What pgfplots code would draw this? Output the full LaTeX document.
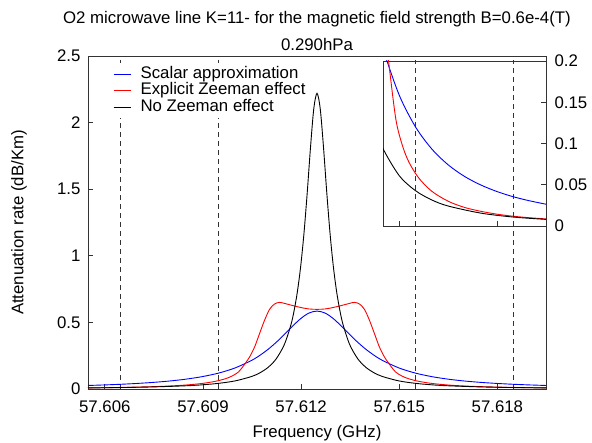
\documentclass[border=0pt]{standalone}
\usepackage{fontspec}
\setmainfont{Liberation Sans}
\usepackage{pgfplots}
\usepackage{pgfplotstable}
\pgfplotsset{compat=1.18}

% d = offset from the line centre 57.612486 GHz, in MHz
\pgfplotstableread{
d a
-7 0.0264
-6.5 0.0305
-6 0.0354
-5.5 0.0417
-5 0.0497
-4.5 0.0601
-4 0.0741
-3.5 0.0932
-3 0.1199
-2.5 0.1584
-2 0.2147
-1.75 0.2522
-1.5 0.2970
-1.25 0.3496
-1 0.4088
-0.75 0.4708
-0.5 0.5281
-0.25 0.5697
0 0.5850
0.25 0.5697
0.5 0.5281
0.75 0.4708
1 0.4088
1.25 0.3496
1.5 0.2970
1.75 0.2522
2 0.2147
2.5 0.1584
3 0.1199
3.5 0.0932
4 0.0741
4.5 0.0601
5 0.0497
5.5 0.0417
6 0.0354
6.5 0.0305
7 0.0264
}\scalar

\pgfplotstableread{
d a
-7 0.0086
-6.5 0.0100
-6 0.0118
-5.5 0.0143
-5 0.0178
-4.5 0.0225
-4 0.0300
-3.5 0.0420
-3.1 0.0580
-2.8 0.0770
-2.6 0.0970
-2.4 0.1280
-2.2 0.1900
-2.05 0.2450
-1.9 0.3200
-1.75 0.4200
-1.6 0.5180
-1.45 0.5980
-1.3 0.6380
-1.15 0.6500
-1 0.6430
-0.75 0.6270
-0.5 0.6120
-0.25 0.6010
0 0.5980
0.25 0.6010
0.5 0.6120
0.75 0.6270
1 0.6430
1.15 0.6500
1.3 0.6380
1.45 0.5980
1.6 0.5180
1.75 0.4200
1.9 0.3200
2.05 0.2450
2.2 0.1900
2.4 0.1280
2.6 0.0970
2.8 0.0770
3.1 0.0580
3.5 0.0420
4 0.0300
4.5 0.0225
5 0.0178
5.5 0.0143
6 0.0118
6.5 0.0100
7 0.0086
}\zeeman

\pgfplotstableread{
d a
-7 0.0080
-6 0.0108
-5 0.0156
-4 0.0242
-3.5 0.0315
-3 0.0427
-2.5 0.0609
-2 0.0938
-1.75 0.1209
-1.5 0.1614
-1.25 0.2252
-1 0.3329
-0.8 0.4797
-0.7 0.5877
-0.6 0.7301
-0.5 0.9184
-0.4 1.1641
-0.3 1.4700
-0.2 1.8097
-0.1 2.1009
0 2.2200
0.1 2.1009
0.2 1.8097
0.3 1.4700
0.4 1.1641
0.5 0.9184
0.6 0.7301
0.7 0.5877
0.8 0.4797
1 0.3329
1.25 0.2252
1.5 0.1614
1.75 0.1209
2 0.0938
2.5 0.0609
3 0.0427
3.5 0.0315
4 0.0242
5 0.0156
6 0.0108
7 0.0080
}\nozeeman

\pgfplotsset{
  every axis/.append style={
    scale only axis,
    axis line style={black!80, line width=0.8pt},
    every tick/.style={black!80, line width=0.8pt},
    major tick length=5pt,
    /pgf/number format/assume math mode=true,
  },
  vline/.style={black!80, line width=0.9pt, dash pattern=on 5pt off 4pt, forget plot},
}

\begin{document}
\begin{tikzpicture}[font=\fontsize{16.8}{20}\selectfont]
\path[use as bounding box] (-88pt,-54pt) rectangle (504pt,389pt);
\begin{axis}[
  at={(0pt,0pt)}, anchor=south west,
  width=458pt, height=333pt,
  xmin=-7, xmax=7, ymin=0, ymax=2.5,
  xtick={-6.486,-3.486,-0.486,2.514,5.514},
  xticklabels={57.606,57.609,57.612,57.615,57.618},
  ytick={0,0.5,1,1.5,2,2.5},
  yticklabels={0,0.5,1,1.5,2,2.5},
  xtick pos=bottom, ytick pos=left,
  xticklabel style={yshift=-8pt},
  yticklabel style={xshift=-4pt},
  xlabel={Frequency (GHz)},
  ylabel={Attenuation rate (dB/Km)},
  every axis x label/.style={at={(axis description cs:0.5,0)}, yshift=-44pt, anchor=center},
  every axis y label/.style={at={(axis description cs:0,0.5)}, xshift=-69pt, rotate=90, anchor=center},
  legend style={at={(axis description cs:0.048,0.98)}, anchor=north west,
    draw=none, fill=white, inner sep=3pt, row sep=0pt,
    nodes={inner sep=0.5pt, text height=12pt, text depth=3.5pt},
    /tikz/every odd column/.append style={column sep=9pt}},
  legend cell align=left,
  legend image code/.code={\draw[mark repeat=2, mark phase=2, #1] plot coordinates {(0pt,0pt) (17pt,0pt)};},
]
\addplot[vline] coordinates {(-6,0) (-6,2.5)};
\addplot[vline] coordinates {(-3,0) (-3,2.5)};
\addplot[vline] coordinates {(3,0) (3,2.5)};
\addplot[vline] coordinates {(6,0) (6,2.5)};
\addplot[color=blue, line width=0.9pt, smooth] table[x=d, y=a] {\scalar};
\addlegendentry{Scalar approximation}
\addplot[color=red, line width=0.9pt, smooth] table[x=d, y=a] {\zeeman};
\addlegendentry{Explicit Zeeman effect}
\addplot[color=black, line width=0.9pt, smooth] table[x=d, y=a] {\nozeeman};
\addlegendentry{No Zeeman effect}
\end{axis}

\node[anchor=base] at (229pt,365pt) {O2 microwave line K=11- for the magnetic field strength B=0.6e-4(T)};
\node[anchor=base] at (229pt,338pt) {0.290hPa};

\begin{axis}[
  at={(295pt,163pt)}, anchor=south west,
  width=163pt, height=165pt,
  xmin=2, xmax=7, ymin=0, ymax=0.2,
  axis background/.style={fill=white},
  xtick={2.514,5.514}, xticklabels={}, xtick pos=bottom,
  ytick={0,0.05,0.1,0.15,0.2},
  yticklabels={0,0.05,0.1,0.15,0.2},
  ytick pos=right, yticklabel pos=right,
  yticklabel style={xshift=5pt},
  scaled y ticks=false,
]
\addplot[vline] coordinates {(3,0) (3,0.2)};
\addplot[vline] coordinates {(6,0) (6,0.2)};
\addplot[color=blue, line width=0.9pt, smooth] table[x=d, y=a] {\scalar};
\addplot[color=red, line width=0.9pt, smooth] table[x=d, y=a] {\zeeman};
\addplot[color=black, line width=0.9pt, smooth] table[x=d, y=a] {\nozeeman};
\end{axis}
\end{tikzpicture}
\end{document}
